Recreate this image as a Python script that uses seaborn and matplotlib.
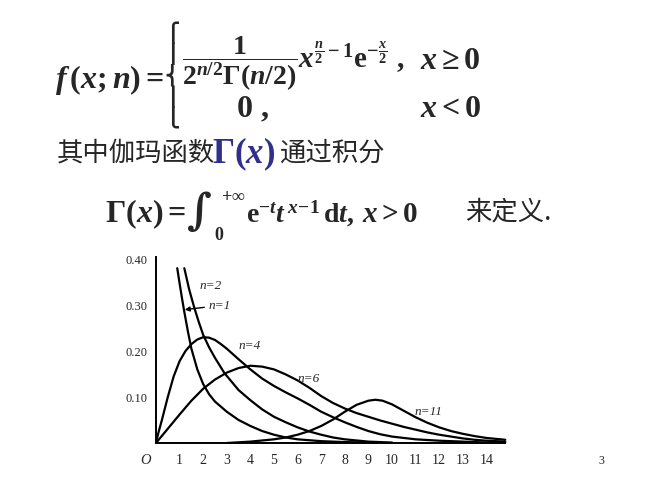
import numpy as np
import pandas as pd
import seaborn as sns
import matplotlib
matplotlib.use("Agg")
import matplotlib.pyplot as plt

# chi-square density curves
n1_x = [0.9, 1.0, 1.1, 1.2, 1.35, 1.5, 1.75, 2.0, 2.25, 2.5, 3.0, 3.5, 4.0, 4.5, 5.0, 5.5, 6.0, 7.0, 8.0, 9.0]
n1_y = [0.38, 0.347, 0.315, 0.285, 0.243, 0.205, 0.16, 0.128, 0.106, 0.09, 0.068, 0.05, 0.037, 0.026, 0.018, 0.012, 0.008, 0.004, 0.002, 0.001]

n2_x = [1.2, 1.4, 1.6, 1.8, 2.0, 2.25, 2.5, 2.9, 3.5, 4.0, 4.5, 5.0, 5.5, 6.0, 6.5, 7.0, 7.5, 8.0, 9.0, 10.0]
n2_y = [0.38, 0.335, 0.298, 0.265, 0.235, 0.208, 0.185, 0.152, 0.115, 0.093, 0.073, 0.057, 0.045, 0.034, 0.025, 0.018, 0.012, 0.008, 0.003, 0.001]

n4_x = [0, 0.1, 0.25, 0.5, 0.75, 1.0, 1.25, 1.5, 1.75, 2.0, 2.25, 2.5, 2.75, 3.0, 3.5, 4.0, 4.5, 5.0, 5.5, 6.0,
        6.5, 7.0, 7.5, 8.0, 8.5, 9.0, 9.5, 10.0, 11.0, 12.0, 13.0, 14.0, 14.8]
n4_y = [0, 0.022, 0.05, 0.1, 0.145, 0.178, 0.2, 0.215, 0.225, 0.23, 0.229, 0.224, 0.215, 0.205, 0.182, 0.16, 0.14, 0.124, 0.11, 0.097,
        0.083, 0.068, 0.056, 0.045, 0.035, 0.026, 0.019, 0.014, 0.008, 0.005, 0.003, 0.001, 0.0]

n6_x = [0, 0.5, 1.0, 1.5, 2.0, 2.5, 3.0, 3.5, 4.0, 4.5, 5.0, 5.5, 6.0, 6.5, 7.0, 7.5, 8.0, 8.5, 9.0, 9.5,
        10.0, 10.5, 11.0, 11.5, 12.0, 12.5, 13.0, 13.5, 14.0, 14.8]
n6_y = [0, 0.031, 0.062, 0.092, 0.118, 0.138, 0.153, 0.163, 0.168, 0.166, 0.16, 0.149, 0.136, 0.12, 0.102, 0.087, 0.075, 0.065, 0.057, 0.049,
        0.042, 0.035, 0.029, 0.023, 0.018, 0.014, 0.01, 0.007, 0.005, 0.003]

n11_x = [3.0, 4.0, 5.0, 5.5, 6.0, 6.5, 7.0, 7.5, 8.0, 8.5, 9.0, 9.3, 9.6, 10.0, 10.5, 11.0, 11.5, 12.0, 12.5, 13.0, 13.5, 14.0, 14.8]
n11_y = [0.0, 0.003, 0.008, 0.012, 0.018, 0.026, 0.037, 0.051, 0.068, 0.083, 0.092, 0.094, 0.092, 0.084, 0.07, 0.056, 0.044, 0.034, 0.026, 0.02, 0.015, 0.011, 0.007]

x_ticks = list(range(1, 15))
y_ticks = [0.10, 0.20, 0.30, 0.40]
y_tick_labels = ["0.10", "0.20", "0.30", "0.40"]

sns.set_style("white")
plt.rcParams["mathtext.fontset"] = "custom"
plt.rcParams["mathtext.rm"] = "Liberation Serif:bold"
plt.rcParams["mathtext.it"] = "Liberation Serif:bold:italic"
plt.rcParams["mathtext.bf"] = "Liberation Serif:bold"
plt.rcParams["font.family"] = ["Liberation Serif", "DejaVu Sans"]

W, H = 657, 490
fig = plt.figure(figsize=(W / 100, H / 100), dpi=100)


def fx(px):
    return px / W


def fy(py):
    return 1 - py / H


# plot area: x=0 at px 156, 23.6 px per unit; y=0 at py 443, 460 px per unit
x0, ux = 156, 23.6
y0, uy = 443, 460
ax = fig.add_axes([fx(x0), fy(y0), 15 * ux / W, 0.41 * uy / H])
ax.patch.set_alpha(0)

curves = [(n1_x, n1_y), (n2_x, n2_y), (n4_x, n4_y), (n6_x, n6_y), (n11_x, n11_y)]
for xs, ys in curves:
    sns.lineplot(x=xs, y=ys, ax=ax, color="black", lw=1.6, sort=False)

ax.set_xlim(0, 15)
ax.set_ylim(0, 0.41)
for s in ["top", "right"]:
    ax.spines[s].set_visible(False)
ax.spines["left"].set_bounds(0, 0.405)
ax.spines["bottom"].set_bounds(0, 14.8)
for s in ["left", "bottom"]:
    ax.spines[s].set_linewidth(1.4)
    ax.spines[s].set_color("black")
ax.set_xticks(x_ticks)
ax.set_xticklabels([str(t) for t in x_ticks], fontsize=10)
ax.set_yticks(y_ticks)
ax.set_yticklabels(y_tick_labels, fontsize=9)
ax.tick_params(axis="x", direction="in", length=4, width=1, pad=8)
ax.tick_params(axis="y", direction="in", length=4, width=1, pad=6)

lab = dict(fontsize=9.5, fontstyle="italic", ha="center", va="center")
ax.text(-0.45, -0.037, "O", fontsize=10.5, fontstyle="italic", ha="center", va="center")
fig.text(fx(211), fy(286), "n=2", **lab)
fig.text(fx(220), fy(306), "n=1", **lab)
fig.text(fx(250), fy(346), "n=4", **lab)
fig.text(fx(309), fy(379), "n=6", **lab)
fig.text(fx(428), fy(412), "n=11", **lab)
fig.patches.append(matplotlib.patches.FancyArrowPatch(
    (fx(207), fy(307)), (fx(182), fy(310)), transform=fig.transFigure,
    arrowstyle="-|>", mutation_scale=7, lw=1, color="black"))

# formula block
fig.text(fx(55), fy(88), r"$f\,(x;n)=$", fontsize=23, va="baseline")
fig.text(fx(172), fy(75), "⎧\n⎪\n⎨\n⎪\n⎩", fontsize=14, va="center", ha="center",
         family="DejaVu Sans", linespacing=0.93, fontweight="bold")
fig.text(fx(240), fy(68), r"$\dfrac{1}{2^{n/2}\Gamma(n/2)}$", fontsize=20, ha="center", va="baseline")
fig.text(fx(298), fy(68), r"$x^{\frac{n}{2}-1}\mathrm{e}^{-\frac{x}{2}}\ ,$", fontsize=21, va="baseline")
fig.text(fx(420), fy(69), r"$x\geq 0$", fontsize=23, va="baseline")
fig.text(fx(236), fy(117), r"$0\ ,$", fontsize=23, va="baseline")
fig.text(fx(420), fy(117), r"$x<0$", fontsize=23, va="baseline")

cjk = ["Noto Sans CJK SC", "DejaVu Sans"]
fig.text(fx(57), fy(153), "其中伽玛函数", fontsize=19, family=cjk, va="center")
fig.text(fx(212), fy(163), r"$\Gamma(x)$", fontsize=25, color="#30308c", va="baseline")
fig.text(fx(280), fy(153), "通过积分", fontsize=19, family=cjk, va="center")

fig.text(fx(105), fy(222), r"$\Gamma(x)=$", fontsize=23, va="baseline")
fig.text(fx(199), fy(212), "∫", fontsize=31, family="DejaVu Serif", fontweight="bold",
         ha="center", va="center")
fig.text(fx(221), fy(195), r"$+\infty$", fontsize=13, va="center")
fig.text(fx(219), fy(235), r"$0$", fontsize=13, va="center", ha="center")
fig.text(fx(246), fy(222), r"$\mathrm{e}^{-t}t^{\,x\!-\!1}\,\mathrm{d}t,$", fontsize=20, va="baseline")
fig.text(fx(362), fy(222), r"$x>0$", fontsize=21, va="baseline")
fig.text(fx(465), fy(212), "来定义.", fontsize=19, family=cjk, va="center")

fig.text(fx(601), fy(461), "3", fontsize=8.5, ha="center", va="center")

fig.savefig("out.png", dpi=100)
